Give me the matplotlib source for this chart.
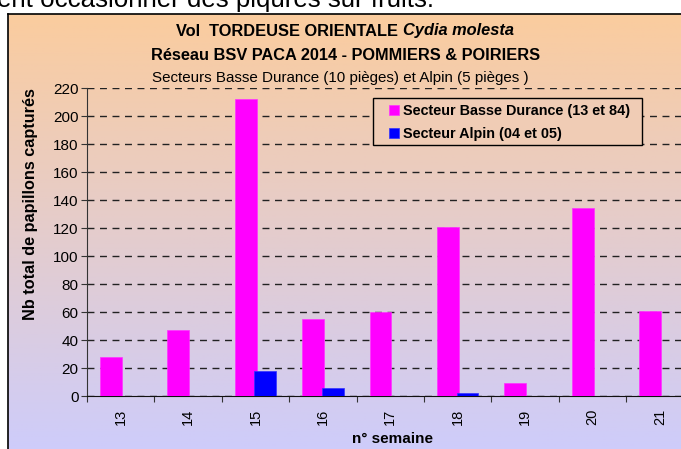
import matplotlib
matplotlib.use("Agg")
import matplotlib.pyplot as plt
import numpy as np
from matplotlib.patches import Rectangle

plt.rcParams['font.family'] = ['Liberation Sans', 'DejaVu Sans']

weeks = ["13", "14", "15", "16", "17", "18", "19", "20", "21"]
basse_durance = [28, 47, 212, 55, 60, 121, 9, 134, 61]
alpin = [0, 0, 18, 6, 0, 2, 0, 0, 0]
series_labels = ["Secteur Basse Durance (13 et 84)", "Secteur Alpin (04 et 05)"]
yticks = list(range(0, 221, 20))

W, H = 681, 449
fig = plt.figure(figsize=(W / 100, H / 100), dpi=100)

def fx(px):
    return px / W

def fy(py):
    return 1 - py / H

# background box with gradient
bg_bottom_px = H + 0.05 * H
bg = fig.add_axes([fx(8), -0.05, 1.05, fy(14) + 0.05], zorder=0)
top = np.array([251, 204, 158]) / 255
bot = np.array([204, 204, 255]) / 255
t = np.linspace(0, 1, 256)[:, None]
grad = top[None, :] * (1 - t) + bot[None, :] * t
grad = np.repeat(grad[:, None, :], 2, axis=1)
bg.imshow(grad, aspect='auto', extent=[0, 1, 0, 1], origin='upper')
bg.set_xlim(0, 1)
bg.set_ylim(0, 1)
bg.set_xticks([])
bg.set_yticks([])
for s in bg.spines.values():
    s.set_color('black')
    s.set_linewidth(1.2)

# main axes
left, right, ybot, ytop = 87, 693.6, 396, 88
ax = fig.add_axes([fx(left), fy(ybot), fx(right - left), (ybot - ytop) / H], zorder=2)
ax.set_facecolor('none')
x = np.arange(len(weeks))
w = 0.322
b1 = ax.bar(x - 0.145, basse_durance, width=w, color='#FF00FF', edgecolor='#FF33FF', linewidth=0.5,
            label=series_labels[0], zorder=3)
b2 = ax.bar(x + 0.145, alpin, width=w, color='#0000FF', edgecolor='#3333FF', linewidth=0.5,
            label=series_labels[1], zorder=3)

ax.set_xlim(-0.5, len(weeks) - 0.5)
ax.set_ylim(0, 220)
ax.set_yticks(yticks)
ax.set_yticklabels([str(v) for v in yticks], fontsize=11)
ax.set_xticks(np.arange(-0.5, len(weeks), 1.0))
ax.set_xticklabels([])
ax.set_xticks(x, minor=True)
ax.set_xticklabels(weeks, minor=True, rotation=90, fontsize=10.5)
ax.tick_params(axis='x', which='minor', length=0, pad=9)
ax.tick_params(axis='x', which='major', length=4, direction='out', color='#333333')
ax.tick_params(axis='y', length=4, direction='out', color='#333333', pad=2)
ax.yaxis.grid(True, linestyle=(0, (5, 4)), color='#222222', linewidth=1)
ax.set_axisbelow(True)
for s in ['top', 'right']:
    ax.spines[s].set_visible(False)
ax.spines['left'].set_color('#333333')
ax.spines['bottom'].set_color('#111111')

# legend frame (filled with the local background colour) + frameless legend content
lt = ((98 + 145) / 2 - 14) / (bg_bottom_px - 14)
legbg = top * (1 - lt) + bot * lt
fig.patches.append(Rectangle((fx(373), fy(145)), fx(642 - 373), (145 - 98) / H,
                             transform=fig.transFigure, facecolor=legbg, edgecolor='black',
                             linewidth=1, zorder=4))
leg = fig.legend(handles=[b1, b2], labels=series_labels, loc='upper left',
                 bbox_to_anchor=(fx(389), fy(104)), bbox_transform=fig.transFigure,
                 frameon=False, prop={'weight': 'bold', 'size': 10.4},
                 handlelength=0.7, handleheight=0.7, handletextpad=0.3, borderpad=0,
                 labelspacing=0.6, borderaxespad=0)
leg.set_zorder(6)

# titles
fig.canvas.draw()
r = fig.canvas.get_renderer()
ta = fig.text(0, fy(31), "Vol  TORDEUSE ORIENTALE ", ha='left', va='center', fontsize=11.8, weight='bold')
tb = fig.text(0, fy(31), "Cydia molesta", ha='left', va='center', fontsize=11.8, weight='bold', style='italic')
wa = ta.get_window_extent(r).width
wb = tb.get_window_extent(r).width
x0 = 345 - (wa + wb) / 2
ta.set_x(fx(x0))
tb.set_x(fx(x0 + wa))

fig.text(fx(346), fy(55), "Réseau BSV PACA 2014 - POMMIERS & POIRIERS", ha='center', va='center',
         fontsize=11.8, weight='bold')
fig.text(fx(340), fy(78), "Secteurs Basse Durance (10 pièges) et Alpin (5 pièges )", ha='center', va='center',
         fontsize=10.9)

fig.text(fx(392), fy(439), "n° semaine", ha='center', va='center', fontsize=11, weight='bold')
fig.text(fx(31), fy(204), "Nb total de papillons capturés", ha='center', va='center', rotation=90,
         fontsize=11.7, weight='bold')

# cropped text above the chart (cut off in the reference as well)
fig.text(fx(-3), fy(6.5), "ent occasionner des piqûres sur fruits.", ha='left', va='baseline',
         fontsize=18.6, color='black')

fig.savefig("out.png", dpi=100)
